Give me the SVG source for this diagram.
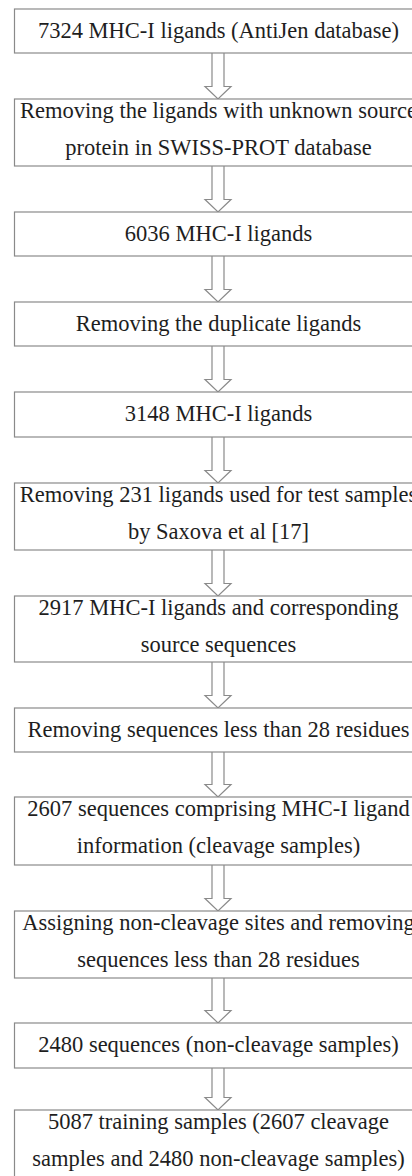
<svg xmlns="http://www.w3.org/2000/svg" width="412" height="1176" viewBox="0 0 412 1176">
<defs>
<path id="arrow" d="M-6,0 V33.5 H-13 L0,46 L13,33.5 H6 V0" fill="#fff" stroke="#8a8a8a" stroke-width="1.2"/>
</defs>
<rect width="412" height="1176" fill="#fff"/>
<g id="connectors" fill="#fff" stroke="#8a8a8a" stroke-width="1.2">
<path d="M212,53 V86.5 H205 L218,99 L231,86.5 H224 V53"/>
<path d="M212,166 V199.5 H205 L218,212 L231,199.5 H224 V166"/>
<path d="M212,256 V289.5 H205 L218,302 L231,289.5 H224 V256"/>
<path d="M212,346 V379.5 H205 L218,392 L231,379.5 H224 V346"/>
<path d="M212,437 V470.5 H205 L218,483 L231,470.5 H224 V437"/>
<path d="M212,550 V583.5 H205 L218,596 L231,583.5 H224 V550"/>
<path d="M212,662 V695.5 H205 L218,708 L231,695.5 H224 V662"/>
<path d="M212,752 V784.5 H205 L218,797 L231,784.5 H224 V752"/>
<path d="M212,865 V898.5 H205 L218,911 L231,898.5 H224 V865"/>
<path d="M212,978 V1010.5 H205 L218,1023 L231,1010.5 H224 V978"/>
<path d="M212,1068 V1097.5 H205 L218,1110 L231,1097.5 H224 V1068"/>
</g>
<g id="nodes">
<g id="n1"><rect x="14.5" y="9" width="410" height="44" fill="#fff" stroke="#8a8a8a" stroke-width="1.2"/><text font-family="Liberation Serif" font-size="22.5" fill="#1e1e1e" text-anchor="middle" x="218.5" y="38">7324 MHC-I ligands (AntiJen database)</text></g>
<g id="n2"><rect x="14.5" y="99" width="410" height="67" fill="#fff" stroke="#8a8a8a" stroke-width="1.2"/><text font-family="Liberation Serif" font-size="22.5" fill="#1e1e1e" text-anchor="middle" x="218.5" y="117.5">Removing the ligands with unknown source</text><text font-family="Liberation Serif" font-size="22.5" fill="#1e1e1e" text-anchor="middle" x="218.5" y="154.5">protein in SWISS-PROT database</text></g>
<g id="n3"><rect x="14.5" y="212" width="410" height="44" fill="#fff" stroke="#8a8a8a" stroke-width="1.2"/><text font-family="Liberation Serif" font-size="22.5" fill="#1e1e1e" text-anchor="middle" x="218.5" y="241">6036 MHC-I ligands</text></g>
<g id="n4"><rect x="14.5" y="302" width="410" height="44" fill="#fff" stroke="#8a8a8a" stroke-width="1.2"/><text font-family="Liberation Serif" font-size="22.5" fill="#1e1e1e" text-anchor="middle" x="218.5" y="331">Removing the duplicate ligands</text></g>
<g id="n5"><rect x="14.5" y="392" width="410" height="45" fill="#fff" stroke="#8a8a8a" stroke-width="1.2"/><text font-family="Liberation Serif" font-size="22.5" fill="#1e1e1e" text-anchor="middle" x="218.5" y="421">3148 MHC-I ligands</text></g>
<g id="n6"><rect x="14.5" y="483" width="410" height="67" fill="#fff" stroke="#8a8a8a" stroke-width="1.2"/><text font-family="Liberation Serif" font-size="22.5" fill="#1e1e1e" text-anchor="middle" x="218.5" y="501.5">Removing 231 ligands used for test samples</text><text font-family="Liberation Serif" font-size="22.5" fill="#1e1e1e" text-anchor="middle" x="218.5" y="538.5">by Saxova et al [17]</text></g>
<g id="n7"><rect x="14.5" y="596" width="410" height="66" fill="#fff" stroke="#8a8a8a" stroke-width="1.2"/><text font-family="Liberation Serif" font-size="22.5" fill="#1e1e1e" text-anchor="middle" x="218.5" y="614.5">2917 MHC-I ligands and corresponding</text><text font-family="Liberation Serif" font-size="22.5" fill="#1e1e1e" text-anchor="middle" x="218.5" y="651.5">source sequences</text></g>
<g id="n8"><rect x="14.5" y="708" width="410" height="44" fill="#fff" stroke="#8a8a8a" stroke-width="1.2"/><text font-family="Liberation Serif" font-size="22.5" fill="#1e1e1e" text-anchor="middle" x="218.5" y="737">Removing sequences less than 28 residues</text></g>
<g id="n9"><rect x="14.5" y="797" width="410" height="68" fill="#fff" stroke="#8a8a8a" stroke-width="1.2"/><text font-family="Liberation Serif" font-size="22.5" fill="#1e1e1e" text-anchor="middle" x="218.5" y="815.5">2607 sequences comprising MHC-I ligand</text><text font-family="Liberation Serif" font-size="22.5" fill="#1e1e1e" text-anchor="middle" x="218.5" y="852.5">information (cleavage samples)</text></g>
<g id="n10"><rect x="14.5" y="911" width="410" height="67" fill="#fff" stroke="#8a8a8a" stroke-width="1.2"/><text font-family="Liberation Serif" font-size="22.5" fill="#1e1e1e" text-anchor="middle" x="218.5" y="929.5">Assigning non-cleavage sites and removing</text><text font-family="Liberation Serif" font-size="22.5" fill="#1e1e1e" text-anchor="middle" x="218.5" y="966.5">sequences less than 28 residues</text></g>
<g id="n11"><rect x="14.5" y="1023" width="410" height="45" fill="#fff" stroke="#8a8a8a" stroke-width="1.2"/><text font-family="Liberation Serif" font-size="22.5" fill="#1e1e1e" text-anchor="middle" x="218.5" y="1052">2480 sequences (non-cleavage samples)</text></g>
<g id="n12"><rect x="14.5" y="1110" width="410" height="67" fill="#fff" stroke="#8a8a8a" stroke-width="1.2"/><text font-family="Liberation Serif" font-size="22.5" fill="#1e1e1e" text-anchor="middle" x="218.5" y="1128.5">5087 training samples (2607 cleavage</text><text font-family="Liberation Serif" font-size="22.5" fill="#1e1e1e" text-anchor="middle" x="218.5" y="1165.5">samples and 2480 non-cleavage samples)</text></g>
</g>
</svg>
